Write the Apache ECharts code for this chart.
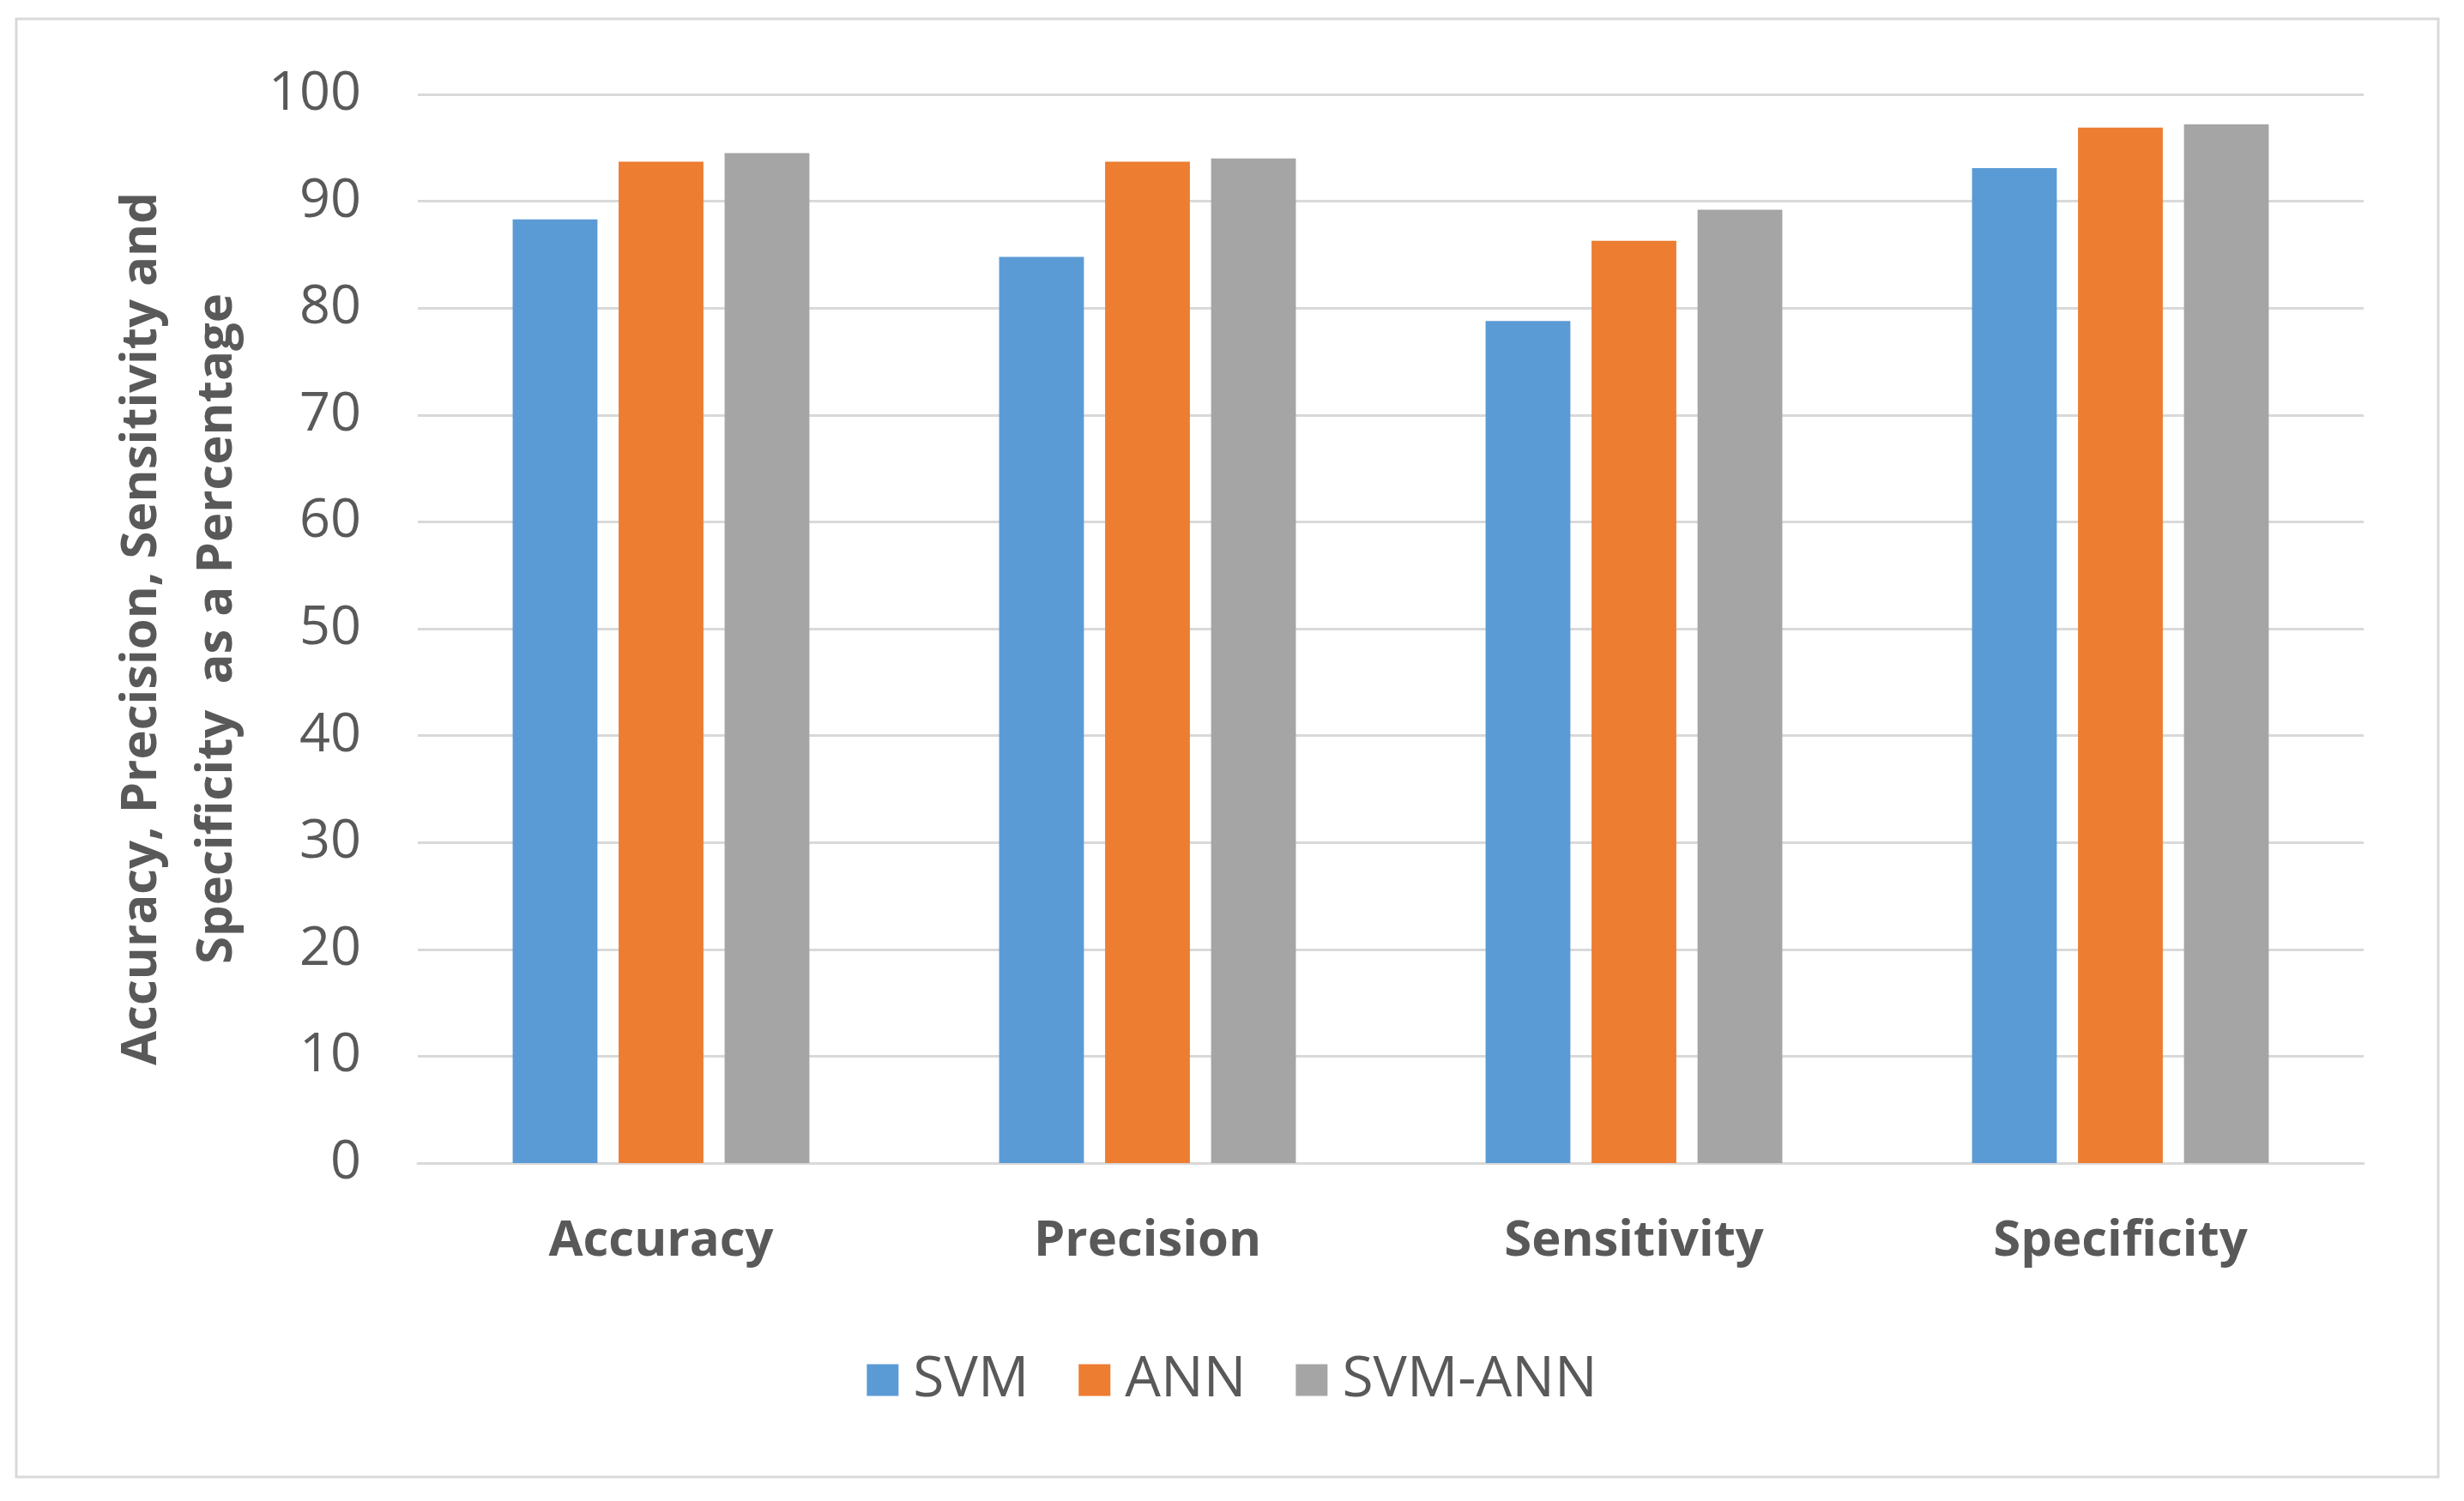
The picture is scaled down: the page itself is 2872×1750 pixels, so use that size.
<!DOCTYPE html>
<html>
<head>
<meta charset="utf-8">
<script src="https://cdn.jsdelivr.net/npm/echarts@6/dist/echarts.min.js"></script>
<style>
html,body{margin:0;padding:0;background:#fff;}
#chart{width:2872px;height:1750px;}
</style>
</head>
<body>
<div id="chart"></div>
<script>
const categories = ['Accuracy', 'Precision', 'Sensitivity', 'Specificity'];
const seriesNames = ['SVM', 'ANN', 'SVM-ANN'];
const svmValues = [88.3, 84.8, 78.8, 93.1];
const annValues = [93.7, 93.7, 86.3, 96.9];
const svmAnnValues = [94.5, 94.0, 89.2, 97.2];
const yAxisTitle = 'Accuracy, Precision, Sensitivity and\nSpecificity  as a Percentage';

const colors = ['#5B9BD5', '#ED7D31', '#A5A5A5'];
const FONT = '"Open Sans", "Noto Sans", sans-serif';

const chart = echarts.init(document.getElementById('chart'));
const values = [svmValues, annValues, svmAnnValues];

chart.setOption({
  backgroundColor: '#ffffff',
  animation: false,
  color: colors,
  graphic: [{
    type: 'rect',
    shape: { x: 19, y: 22, width: 2823, height: 1700 },
    style: { fill: 'none', stroke: '#D9D9D9', lineWidth: 3 },
    silent: true
  }],
  grid: { left: 487, right: 117, top: 110, bottom: 394 },
  legend: {
    data: seriesNames,
    top: 1571,
    left: 'center',
    itemWidth: 37,
    itemHeight: 37,
    itemGap: 58,
    icon: 'rect',
    textStyle: { fontFamily: FONT, fontSize: 66, color: '#595959', padding: [0, 0, 0, 12] }
  },
  xAxis: {
    type: 'category',
    data: categories,
    axisLine: { show: true, lineStyle: { color: '#D9D9D9', width: 3 } },
    axisTick: { show: false },
    axisLabel: { fontFamily: FONT, fontSize: 58, fontWeight: 'bold', color: '#595959', margin: 62 }
  },
  yAxis: {
    type: 'value',
    min: 0,
    max: 100,
    interval: 10,
    name: yAxisTitle,
    nameLocation: 'middle',
    nameGap: 190,
    nameRotate: 90,
    nameTextStyle: { fontFamily: FONT, fontSize: 58, fontWeight: 'bold', color: '#595959', lineHeight: 88, align: 'center' },
    axisLine: { show: false },
    axisTick: { show: false },
    axisLabel: { fontFamily: FONT, fontSize: 63, color: '#595959', margin: 66 },
    splitLine: { lineStyle: { color: '#D9D9D9', width: 3 } }
  },
  series: seriesNames.map((n, i) => ({
    name: n,
    type: 'bar',
    data: values[i],
    barGap: '25%',
    barCategoryGap: '39%'
  }))
});
</script>
</body>
</html>
